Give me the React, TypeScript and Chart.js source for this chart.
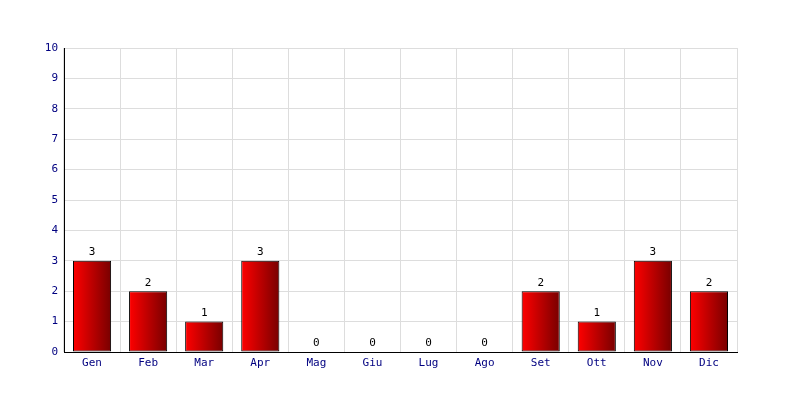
import React, { useEffect, useRef } from "react";
import { Chart, registerables } from "chart.js";

Chart.register(...registerables);

const categories = ["Gen", "Feb", "Mar", "Apr", "Mag", "Giu", "Lug", "Ago", "Set", "Ott", "Nov", "Dic"];
const values = [3, 2, 1, 3, 0, 0, 0, 0, 2, 1, 3, 2];
const yTicks = [0, 1, 2, 3, 4, 5, 6, 7, 8, 9, 10];

const FONT = "'DejaVu Sans Mono', monospace";

const valueLabels = {
  id: "valueLabels",
  afterDatasetsDraw(chart: any) {
    const ctx = chart.ctx;
    const meta = chart.getDatasetMeta(0);
    ctx.save();
    ctx.fillStyle = "#000000";
    ctx.font = `11px ${FONT}`;
    ctx.textAlign = "center";
    ctx.textBaseline = "bottom";
    meta.data.forEach((el: any, i: number) => {
      ctx.fillText(String(values[i]), el.x, el.y - 3);
    });
    ctx.restore();
  },
};

export default function App() {
  const ref = useRef<HTMLCanvasElement>(null);
  useEffect(() => {
    if (!ref.current) return;
    const chart = new Chart(ref.current, {
      type: "bar",
      data: {
        labels: categories,
        datasets: [
          {
            data: values,
            backgroundColor: (c: any) => {
              const ch = c.chart;
              const xs = ch.scales?.x;
              if (!xs || c.dataIndex === undefined) return "#cc0000";
              const cx = xs.getPixelForValue(c.dataIndex);
              const w = (xs.width / categories.length) * 0.68;
              if (!isFinite(cx) || !isFinite(w) || w <= 0) return "#cc0000";
              const g = ch.ctx.createLinearGradient(cx - w / 2, 0, cx + w / 2, 0);
              g.addColorStop(0, "#ff0000");
              g.addColorStop(1, "#780000");
              return g;
            },
            borderColor: "#000000",
            borderWidth: 1,
            borderSkipped: false,
            barPercentage: 0.68,
            categoryPercentage: 1,
          },
        ],
      },
      options: {
        responsive: false,
        animation: false,
        layout: { padding: { left: 0, right: 63, top: 48, bottom: 0 } },
        plugins: { legend: { display: false }, tooltip: { enabled: false } },
        scales: {
          x: {
            grid: { color: "#dddddd", drawTicks: false, offset: true },
            border: { color: "#000000", width: 1 },
            ticks: { color: "#000080", font: { family: FONT, size: 11 }, padding: 5 },
            afterFit: (s: any) => { s.height = 48; },
          },
          y: {
            min: 0,
            max: 10,
            afterBuildTicks: (s: any) => { s.ticks = yTicks.map((v) => ({ value: v })); },
            grid: { color: "#dddddd", drawTicks: false },
            border: { color: "#000000", width: 1 },
            ticks: { color: "#000080", font: { family: FONT, size: 11 }, padding: 6 },
            afterFit: (s: any) => { s.width = 64; },
          },
        },
      },
      plugins: [valueLabels],
    });
    chart.update();
    return () => chart.destroy();
  }, []);
  return (
    <div style={{ position: "fixed", left: 0, top: 0, width: 800, height: 400, background: "#fff" }}>
      <canvas ref={ref} width={800} height={400} />
    </div>
  );
}
